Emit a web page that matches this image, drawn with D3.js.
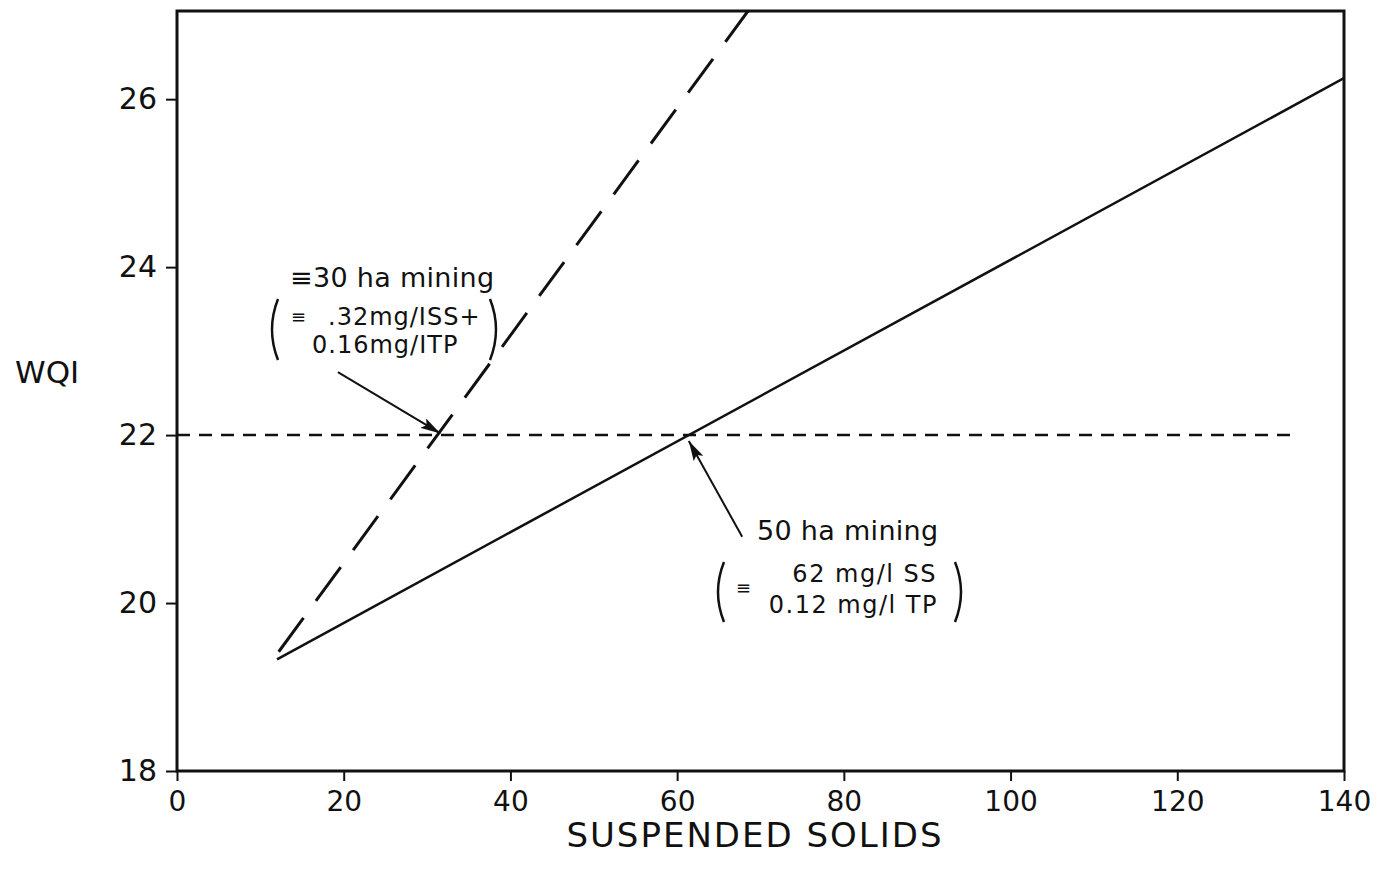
<!DOCTYPE html>
<html>
<head>
<meta charset="utf-8">
<script src="https://cdn.jsdelivr.net/npm/d3@7"></script>
<style>
  body { margin: 0; background: #fff; }
  text { font-family: "DejaVu Sans", sans-serif; fill: #111; }
</style>
</head>
<body>
<svg id="chart" width="1382" height="876"></svg>
<script>
// values
var xTicks = [0, 20, 40, 60, 80, 100, 120, 140];
var yTicks = [18, 20, 22, 24, 26];
var mining50 = [[12, 19.33], [140, 26.25]];   // solid line
var mining30 = [[12.2, 19.42], [68.5, 27.05]];  // long dashes
var standard = [[0, 22], [134.5, 22]];          // WQI = 22 criterion

var svg = d3.select('#chart');
var x = d3.scaleLinear().domain([0, 140]).range([177, 1344]);
var y = d3.scaleLinear().domain([18, 27.05]).range([771, 11]);

svg.append('defs').append('clipPath').attr('id', 'plot')
  .append('rect')
  .attr('x', x(0)).attr('y', y(27.05))
  .attr('width', x(140) - x(0)).attr('height', y(18) - y(27.05));

svg.append('defs').append('marker')
  .attr('id', 'head')
  .attr('viewBox', '0 0 20 11')
  .attr('refX', 20).attr('refY', 5.5)
  .attr('markerWidth', 20).attr('markerHeight', 11)
  .attr('markerUnits', 'userSpaceOnUse')
  .attr('orient', 'auto')
  .append('path').attr('d', 'M0,0 L20,5.5 L0,11 L4,5.5 Z').attr('fill', '#111');

// frame
svg.append('rect')
  .attr('x', x(0)).attr('y', y(27.05))
  .attr('width', x(140) - x(0)).attr('height', y(18) - y(27.05))
  .attr('fill', 'none').attr('stroke', '#111').attr('stroke-width', 3);

var xAxis = svg.append('g')
  .attr('transform', 'translate(0,' + y(18) + ')')
  .call(d3.axisBottom(x).tickValues(xTicks).tickSize(10).tickPadding(10).tickSizeOuter(0));
xAxis.select('.domain').remove();
xAxis.selectAll('line').attr('stroke', '#111').attr('stroke-width', 2);
xAxis.selectAll('text').attr('font-size', 28).style('fill', '#111');

var yAxis = svg.append('g')
  .attr('transform', 'translate(' + x(0) + ',0)')
  .call(d3.axisLeft(y).tickValues(yTicks).tickSize(11).tickPadding(9).tickSizeOuter(0));
yAxis.select('.domain').remove();
yAxis.selectAll('line').attr('stroke', '#111').attr('stroke-width', 2);
yAxis.selectAll('text').attr('font-size', 30).style('fill', '#111');

var line = d3.line()
  .x(function(d) { return x(d[0]); })
  .y(function(d) { return y(d[1]); });

var lines = svg.append('g').attr('clip-path', 'url(#plot)');

lines.append('path').datum(standard)
  .attr('d', line).attr('fill', 'none')
  .attr('stroke', '#111').attr('stroke-width', 2.5)
  .attr('stroke-dasharray', '13,9');

lines.append('path').datum(mining30)
  .attr('d', line).attr('fill', 'none')
  .attr('stroke', '#111').attr('stroke-width', 3)
  .attr('stroke-dasharray', '42,21');

lines.append('path').datum(mining50)
  .attr('d', line).attr('fill', 'none')
  .attr('stroke', '#111').attr('stroke-width', 2.5);

// axis titles
svg.append('text')
  .attr('x', 755).attr('y', 847)
  .attr('text-anchor', 'middle')
  .attr('font-size', 34).attr('letter-spacing', 2)
  .text('SUSPENDED SOLIDS');

svg.append('text')
  .attr('x', 15).attr('y', 383)
  .attr('font-size', 31)
  .text('WQI');

// annotations
function paren(px, top, bottom, dir) {
  var mid = (top + bottom) / 2;
  svg.append('path')
    .attr('d', 'M' + px + ',' + top + ' Q' + (px - dir * 12) + ',' + mid + ' ' + px + ',' + bottom)
    .attr('fill', 'none').attr('stroke', '#111').attr('stroke-width', 2.5);
}

function arrow(from, to) {
  svg.append('line')
    .attr('x1', x(from[0])).attr('y1', y(from[1]))
    .attr('x2', x(to[0])).attr('y2', y(to[1]))
    .attr('stroke', '#111').attr('stroke-width', 2)
    .attr('marker-end', 'url(#head)');
}

function note(px, py, size, str, anchor, spacing) {
  svg.append('text').attr('x', px).attr('y', py)
    .attr('font-size', size)
    .attr('letter-spacing', spacing || 0)
    .attr('text-anchor', anchor || 'start')
    .text(str);
}

note(290, 287, 27, '\u226130 ha mining', 'start', 0.3);
note(291, 323, 18, '\u2261');
note(328, 325, 24, '.32mg/ISS+', 'start', 1);
note(312, 353, 24, '0.16mg/ITP', 'start', 1);
paren(278, 299, 360, 1);
paren(490, 299, 360, -1);
arrow([19.3, 22.75], [31.6, 22.02]);

note(757, 540, 27, '50 ha mining', 'start', 0.3);
note(736, 594, 18, '\u2261');
note(937, 582, 24, '62 mg/l SS', 'end', 1.5);
note(938, 613, 24, '0.12 mg/l TP', 'end', 1.5);
paren(724, 562, 622, 1);
paren(955, 562, 622, -1);
arrow([67.8, 20.79], [61.4, 21.93]);
</script>
</body>
</html>
